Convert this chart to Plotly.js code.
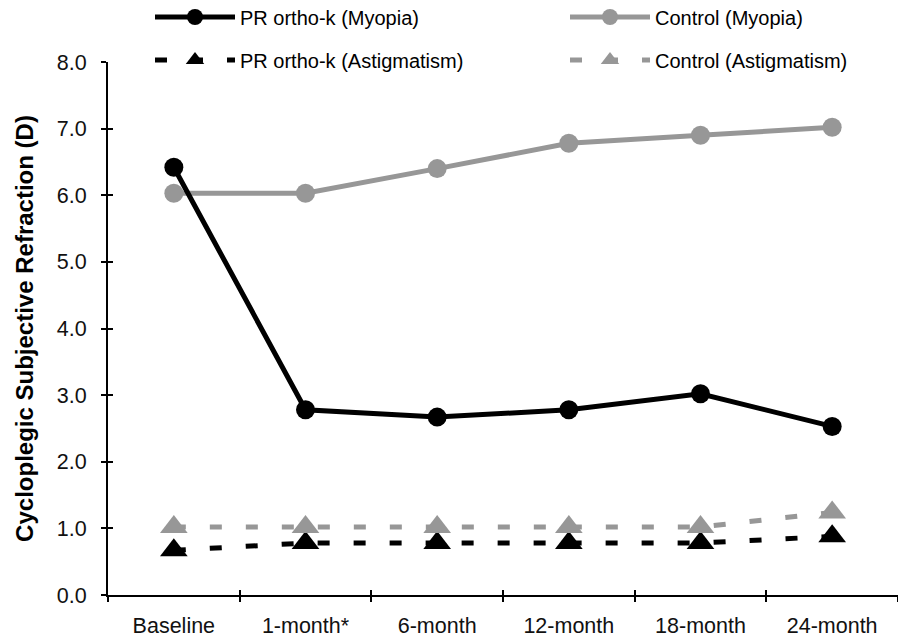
<!DOCTYPE html>
<html>
<head>
<meta charset="utf-8">
<script src="https://cdn.plot.ly/plotly-3.0.1.min.js"></script>
<style>html,body{margin:0;padding:0;background:#fff;}#chart{width:898px;height:640px;}</style>
</head>
<body>
<div id="chart"></div>
<script>
const categories = ["Baseline", "1-month*", "6-month", "12-month", "18-month", "24-month"];
const orthoMyopia = [6.42, 2.78, 2.67, 2.78, 3.02, 2.53];
const controlMyopia = [6.03, 6.03, 6.40, 6.78, 6.90, 7.02];
const orthoAstig = [0.67, 0.78, 0.78, 0.78, 0.78, 0.88];
const controlAstig = [1.02, 1.02, 1.02, 1.02, 1.02, 1.24];
const seriesNames = ["PR ortho-k (Myopia)", "Control (Myopia)", "PR ortho-k (Astigmatism)", "Control (Astigmatism)"];
const yTitle = "Cycloplegic Subjective Refraction (D)";

const BLACK = "#000000", GRAY = "#979797";
const FONT = "Liberation Sans, Arial, sans-serif";

const traces = [
  {x: categories, y: controlMyopia, name: seriesNames[1], mode: "lines+markers", legend: "legend2",
   line: {color: GRAY, width: 5}, marker: {symbol: "circle", size: 19, color: GRAY}},
  {x: categories, y: orthoMyopia, name: seriesNames[0], mode: "lines+markers", legend: "legend",
   line: {color: BLACK, width: 5}, marker: {symbol: "circle", size: 19, color: BLACK}},
  {x: categories, y: orthoAstig, name: seriesNames[2], mode: "lines+markers", legend: "legend3",
   line: {color: BLACK, width: 5, dash: "12px,24px"}, marker: {symbol: "triangle-up", size: 24, color: BLACK}},
  {x: categories, y: controlAstig, name: seriesNames[3], mode: "lines+markers", legend: "legend4",
   line: {color: GRAY, width: 5, dash: "12px,24px"}, marker: {symbol: "triangle-up", size: 24, color: GRAY}},
  {x: [], y: [], xaxis: "x2", yaxis: "y2", showlegend: false, hoverinfo: "skip", mode: "lines"}
];

function leg(xpx, ypx) {
  return {xref: "container", yref: "container", x: xpx / 898, y: 1 - ypx / 640,
    xanchor: "left", yanchor: "middle", orientation: "h", itemwidth: 80,
    font: {family: FONT, size: 20, color: "#000"}, bgcolor: "rgba(0,0,0,0)", borderwidth: 0,
    tracegroupgap: 0, itemclick: false, itemdoubleclick: false};
}

const layout = {
  width: 898, height: 640,
  margin: {l: 108, r: 0, t: 62, b: 45, pad: 0, autoexpand: false},
  paper_bgcolor: "#fff", plot_bgcolor: "#fff",
  font: {family: FONT, size: 20, color: "#000"},
  xaxis: {type: "category", range: [-0.5, 5.5], showgrid: false, zeroline: false,
    showline: true, linecolor: "#000", linewidth: 2, ticks: "outside", ticklen: 5, tickwidth: 2,
    tickcolor: "#000", tickson: "boundaries", ticklabelstandoff: 10,
    tickfont: {family: FONT, size: 21.5, color: "#111"}},
  yaxis: {range: [0, 8], dtick: 1, tickformat: ".1f", showgrid: false, zeroline: false,
    showline: true, linecolor: "#000", linewidth: 2, ticks: "outside", ticklen: 5, tickwidth: 2,
    tickcolor: "#000", ticklabelstandoff: 10,
    tickfont: {family: FONT, size: 21.5, color: "#111"},
    title: {text: yTitle, font: {family: FONT, size: 24, weight: "bold", color: "#000"}, standoff: 16}},
  xaxis2: {overlaying: "x", anchor: "y", range: [-0.5, 5.5], tickvals: [-0.5, 0.5, 1.5, 2.5, 3.5, 4.5, 5.5],
    ticks: "inside", ticklen: 5, tickwidth: 2, tickcolor: "#000", showticklabels: false,
    showgrid: false, zeroline: false, showline: false},
  yaxis2: {overlaying: "y", anchor: "x", range: [0, 8], dtick: 1, ticks: "inside", ticklen: 5,
    tickwidth: 2, tickcolor: "#000", showticklabels: false, showgrid: false, zeroline: false, showline: false},
  legend: leg(150, 17),
  legend2: leg(565, 17),
  legend3: leg(150, 60),
  legend4: leg(565, 60),
  showlegend: true
};

Plotly.newPlot("chart", traces, layout, {displayModeBar: false, staticPlot: true});
</script>
</body>
</html>
